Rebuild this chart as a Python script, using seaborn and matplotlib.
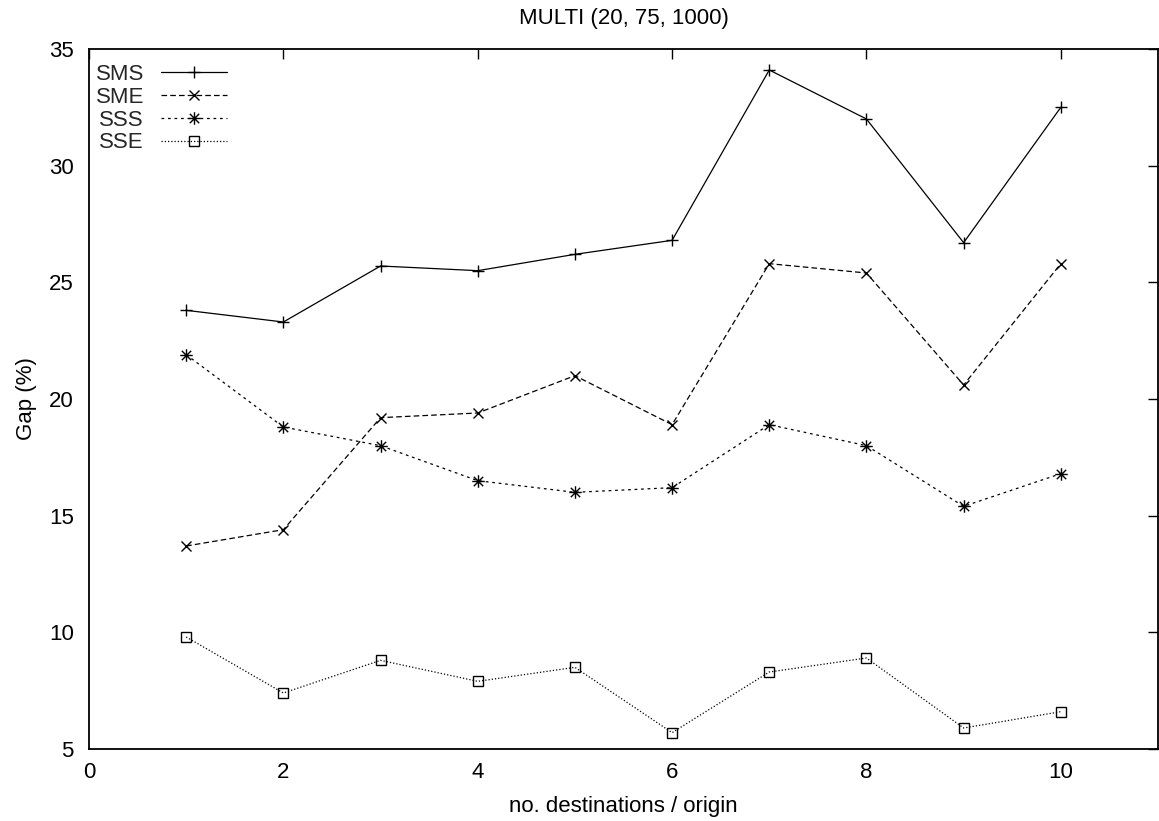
import matplotlib
matplotlib.use("Agg")
import matplotlib.pyplot as plt
from matplotlib.path import Path
import seaborn as sns
import pandas as pd

# ---- data ----
x_vals = [1, 2, 3, 4, 5, 6, 7, 8, 9, 10]
sms = [23.8, 23.3, 25.7, 25.5, 26.2, 26.8, 34.1, 32.0, 26.7, 32.5]
sme = [13.7, 14.4, 19.2, 19.4, 21.0, 18.9, 25.8, 25.4, 20.6, 25.8]
sss = [21.9, 18.8, 18.0, 16.5, 16.0, 16.2, 18.9, 18.0, 15.4, 16.8]
sse = [9.8, 7.4, 8.8, 7.9, 8.5, 5.7, 8.3, 8.9, 5.9, 6.6]
series_names = ["SMS", "SME", "SSS", "SSE"]
x_ticks = [0, 2, 4, 6, 8, 10]
y_ticks = [5, 10, 15, 20, 25, 30, 35]

title_text = "MULTI (20, 75, 1000)"
x_label = "no. destinations / origin"
y_label = "Gap (%)"

# ---- style ----
sns.set_theme(style="white")
plt.rcParams["font.family"] = ["Liberation Sans", "DejaVu Sans"]
plt.rcParams["font.size"] = 16

# gnuplot-like asterisk marker (+ and x overlaid)
d = 0.75
ast_verts = [(-1, 0), (1, 0), (0, -1), (0, 1), (-d, -d), (d, d), (-d, d), (d, -d)]
ast_codes = [Path.MOVETO, Path.LINETO] * 4
asterisk = Path(ast_verts, ast_codes)

styles = {
    "SMS": dict(marker="+", ms=9, linestyle="-"),
    "SME": dict(marker="x", ms=7.5, linestyle=(0, (4.5, 2.5))),
    "SSS": dict(marker=asterisk, ms=9, linestyle=(0, (2.2, 3.0))),
    "SSE": dict(marker="s", ms=6.5, linestyle=(0, (1.0, 1.6))),
}
values = {"SMS": sms, "SME": sme, "SSS": sss, "SSE": sse}

fig = plt.figure(figsize=(11.59, 8.21), dpi=100)
ax = fig.add_axes([89 / 1159, 1 - 749 / 821, (1158 - 89) / 1159, (749 - 49) / 821])

for name in series_names:
    df = pd.DataFrame({"x": x_vals, "y": values[name]})
    st = styles[name]
    sns.lineplot(
        data=df, x="x", y="y", ax=ax, color="black",
        marker=st["marker"], markersize=st["ms"],
        markeredgecolor="black", markerfacecolor="none", markeredgewidth=1.0,
        linestyle=st["linestyle"], linewidth=0.9, label=name, legend=False,
    )

ax.set_xlim(0, 11)
ax.set_ylim(5, 35)
ax.set_xticks(x_ticks)
ax.set_yticks(y_ticks)
ax.tick_params(axis="both", direction="in", length=7.2, width=1.0,
               top=True, right=True, labelsize=16, colors="black")
ax.tick_params(axis="x", pad=9)
ax.tick_params(axis="y", pad=11)
for sp in ax.spines.values():
    sp.set_visible(True)
    sp.set_color("black")
    sp.set_linewidth(1.3)
ax.grid(False)

ax.set_xlabel(x_label, fontsize=16, labelpad=10, color="black")
ax.set_ylabel(y_label, fontsize=16, labelpad=8.5, color="black")
ax.set_title(title_text, fontsize=16, pad=18, color="black")

leg = ax.legend(
    loc="upper left", bbox_to_anchor=(0.0, 0.988), frameon=False,
    markerfirst=False, numpoints=1, fontsize=16,
    handlelength=2.97, handletextpad=0.77, labelspacing=0.08,
    borderpad=0.3, borderaxespad=0.0,
)

fig.savefig("out.png", dpi=100)
